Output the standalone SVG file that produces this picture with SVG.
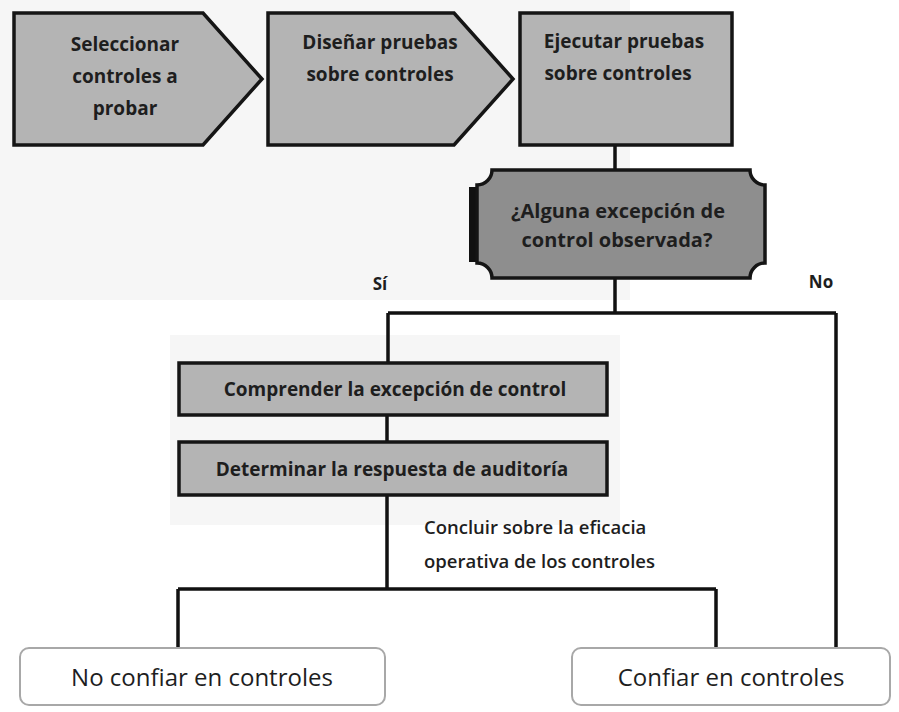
<svg xmlns="http://www.w3.org/2000/svg" width="899" height="712" viewBox="0 0 899 712">
<style>
.bg{fill:#ffffff}
.scan{fill:#f6f6f6}
.proc{fill:#b4b4b4;stroke:#151515;stroke-width:3.5;stroke-linejoin:miter}
.dec{fill:#8e8e8e;stroke:#151515;stroke-width:3.5}
.res{fill:#ffffff;stroke:#a8a8a8;stroke-width:2}
.t{font-family:"Open Sans","Liberation Sans",sans-serif;font-weight:700;fill:#1e1e1e;text-anchor:middle}
.tl{font-family:"Open Sans","Liberation Sans",sans-serif;font-weight:600;fill:#1e1e1e}
.tr{font-family:"Open Sans","Liberation Sans",sans-serif;font-weight:400;fill:#1e1e1e;text-anchor:middle;font-size:24px}
.c{fill:none;stroke:#111;stroke-width:3.5}
</style>
<rect class="bg" x="0" y="0" width="899" height="712"/>
<rect class="scan" x="0" y="0" width="630" height="300"/>
<rect class="scan" x="170" y="335" width="450" height="190"/>
<g id="connectors">
<path class="c" d="M615,145 V170"/>
<path class="c" d="M615,278 V313"/>
<path class="c" d="M388,313 H836 M388,313 V363 M836,313 V648"/>
<path class="c" d="M387,415 V442"/>
<path class="c" d="M387,495 V589 M178,589 H716 M178,589 V648 M716,589 V648"/>
</g>
<g id="n1">
<polygon class="proc" points="14,13 203,13 262,79 203,145 14,145"/>
<text class="t" font-size="19"><tspan x="125" y="51">Seleccionar</tspan><tspan x="125" y="83">controles a</tspan><tspan x="125" y="115">probar</tspan></text>
</g>
<g id="n2">
<polygon class="proc" points="268,13 454,13 513,79 454,145 268,145"/>
<text class="t" font-size="19"><tspan x="380" y="49">Diseñar pruebas</tspan><tspan x="380" y="81">sobre controles</tspan></text>
</g>
<g id="n3">
<rect class="proc" x="520" y="13" width="212" height="132"/>
<text class="t" font-size="19"><tspan x="624" y="48">Ejecutar pruebas</tspan><tspan x="618" y="80">sobre controles</tspan></text>
</g>
<g id="n4">
<rect x="469" y="187" width="8" height="75" fill="#111"/>
<path class="dec" d="M492,170 H750 A15,15 0 0 0 765,185 V263 A15,15 0 0 0 750,278 H492 A15,15 0 0 0 477,263 V185 A15,15 0 0 0 492,170 Z"/>
<text class="t" font-size="20"><tspan x="618" y="218">¿Alguna excepción de</tspan><tspan x="617" y="247">control observada?</tspan></text>
</g>
<text class="t" font-size="17" x="380" y="290">Sí</text>
<text class="t" font-size="17" x="821" y="288">No</text>
<g id="n5">
<rect class="proc" x="179" y="363" width="428" height="52"/>
<text class="t" font-size="19" x="395" y="396">Comprender la excepción de control</text>
</g>
<g id="n6">
<rect class="proc" x="179" y="442" width="428" height="53"/>
<text class="t" font-size="19" x="392" y="476">Determinar la respuesta de auditoría</text>
</g>
<text class="tl" font-size="18.5"><tspan x="424" y="534">Concluir sobre la eficacia</tspan><tspan x="424" y="568">operativa de los controles</tspan></text>
<g id="n7">
<rect class="res" x="20" y="648" width="365" height="57" rx="9"/>
<text class="tr" x="202" y="686">No confiar en controles</text>
</g>
<g id="n8">
<rect class="res" x="572" y="648" width="318" height="57" rx="9"/>
<text class="tr" x="731" y="686">Confiar en controles</text>
</g>
</svg>
